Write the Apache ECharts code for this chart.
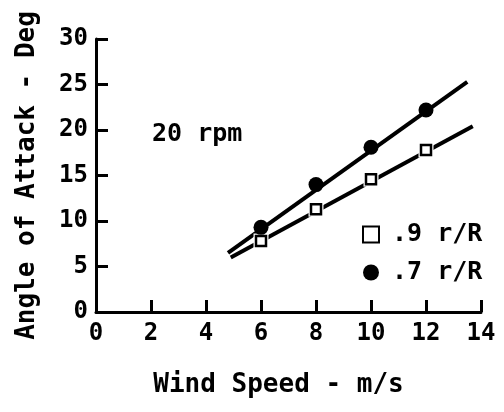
<!DOCTYPE html>
<html>
<head>
<meta charset="utf-8">
<script src="https://cdn.jsdelivr.net/npm/echarts@6/dist/echarts.min.js"></script>
<style>
  html, body { margin: 0; padding: 0; background: #fff; }
  #chart { width: 504px; height: 412px; }
</style>
</head>
<body>
<div id="chart"></div>
<script>
// values
var windSpeed = [6, 8, 10, 12];
var aoa09 = [7.8, 11.3, 14.6, 17.8];   // .9 r/R, open squares
var aoa07 = [9.3, 14.0, 18.1, 22.2];   // .7 r/R, filled circles
var fit09 = [[4.9, 6.0], [13.7, 20.4]];
var fit07 = [[4.8, 6.5], [13.5, 25.3]];
var xTicks = [0, 2, 4, 6, 8, 10, 12, 14];
var yTicks = [0, 5, 10, 15, 20, 25, 30];

var FONT = 'DejaVu Sans Mono';

function pairs(xs, ys) {
    return xs.map(function (x, i) { return [x, ys[i]]; });
}

var chart = echarts.init(document.getElementById('chart'));

var axisCommon = {
    type: 'value',
    axisLine: { show: true, lineStyle: { color: '#000', width: 3 } },
    axisTick: { show: true, inside: true, length: 12, lineStyle: { color: '#000', width: 3 } },
    splitLine: { show: false },
    axisLabel: { color: '#000', fontFamily: FONT, fontWeight: 'bold', fontSize: 24, margin: 8 },
    nameTextStyle: { color: '#000', fontFamily: FONT, fontWeight: 'bold', fontSize: 26 }
};

chart.setOption({
    animation: false,
    backgroundColor: '#fff',
    grid: { left: 96, right: 23, top: 39, bottom: 100 },
    xAxis: Object.assign({}, axisCommon, {
        min: xTicks[0],
        max: xTicks[xTicks.length - 1],
        interval: 2,
        name: 'Wind Speed - m/s',
        nameLocation: 'middle',
        nameGap: 60,
        nameTextStyle: Object.assign({}, axisCommon.nameTextStyle, { padding: [0, 20, 0, 0] }),
        axisLabel: Object.assign({}, axisCommon.axisLabel, { margin: 10 })
    }),
    yAxis: Object.assign({}, axisCommon, {
        min: yTicks[0],
        max: yTicks[yTicks.length - 1],
        interval: 5,
        name: 'Angle of Attack - Deg',
        nameLocation: 'middle',
        nameRotate: 90,
        nameGap: 56
    }),
    legend: {
        orient: 'vertical',
        left: 357,
        top: 217,
        itemGap: 13,
        itemWidth: 16,
        itemHeight: 16,
        data: ['.9 r/R', '.7 r/R'],
        textStyle: { color: '#000', fontFamily: FONT, fontWeight: 'bold', fontSize: 25, padding: [0, 0, 0, 8] }
    },
    graphic: [{
        type: 'text',
        left: 152,
        top: 122,
        style: { text: '20 rpm', font: 'bold 25px ' + FONT, fill: '#000' }
    }],
    series: [
        {
            type: 'line', data: fit07, symbol: 'none', silent: true,
            lineStyle: { color: '#000', width: 4 }
        },
        {
            type: 'line', data: fit09, symbol: 'none', silent: true,
            lineStyle: { color: '#000', width: 4 }
        },
        {
            // white gap round the open squares
            type: 'scatter', data: pairs(windSpeed, aoa09), symbol: 'rect', symbolSize: 15,
            itemStyle: { color: '#fff', opacity: 1 }, silent: true, z: 3
        },
        {
            name: '.9 r/R',
            type: 'scatter', data: pairs(windSpeed, aoa09), symbol: 'rect', symbolSize: 10,
            itemStyle: { color: '#fff', borderColor: '#000', borderWidth: 2.5, opacity: 1 }, z: 4
        },
        {
            name: '.7 r/R',
            type: 'scatter', data: pairs(windSpeed, aoa07), symbol: 'circle', symbolSize: 15,
            itemStyle: { color: '#000', opacity: 1 }, z: 4
        }
    ]
});
</script>
</body>
</html>
